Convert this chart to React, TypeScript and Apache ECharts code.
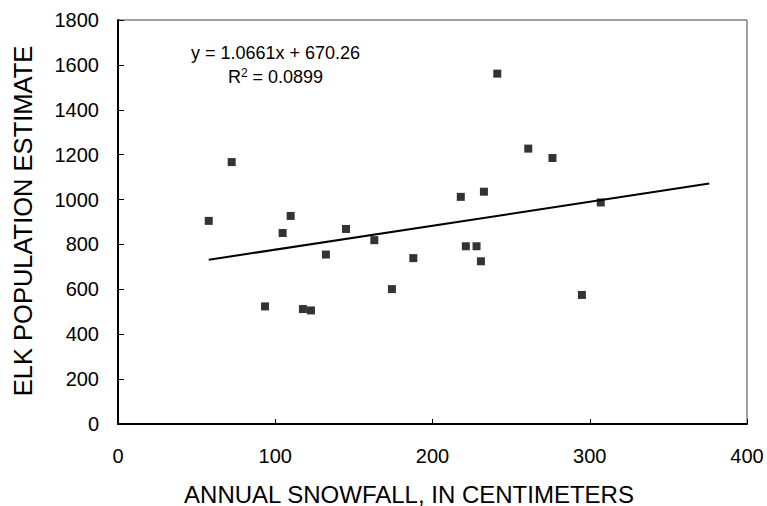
import React, { useEffect, useRef } from "react";
import * as echarts from "echarts";

const snowfall = [57.7, 72.3, 93.5, 104.7, 109.8, 117.6, 122.7, 132.2, 145, 163, 174.2, 187.8, 218, 221.2, 228, 230.8, 232.7, 241.2, 260.9, 276.3, 295, 307];
const elk = [905, 1167, 524, 851, 927, 512, 506, 755, 869, 819, 601, 739, 1012, 792, 792, 725, 1035, 1561, 1227, 1185, 575, 987];
const xTicks = [0, 100, 200, 300, 400];
const yTicks = [0, 200, 400, 600, 800, 1000, 1200, 1400, 1600, 1800];
const trendSlope = 1.0661;
const trendIntercept = 670.26;
const trendRange = [57.7, 376];

const FONT = "Liberation Sans, Arial, sans-serif";

export default function App() {
  const ref = useRef<HTMLDivElement>(null);
  useEffect(() => {
    if (!ref.current) return;
    const chart = echarts.init(ref.current, null, { renderer: "svg" });
    const points = snowfall.map((x, i) => [x, elk[i]]);
    const trend = trendRange.map((x) => [x, trendSlope * x + trendIntercept]);
    chart.setOption({
      animation: false,
      backgroundColor: "#fff",
      grid: {
        left: 118,
        right: 20,
        top: 20,
        bottom: 82,
        show: true,
        borderColor: "#444",
        borderWidth: 1,
      },
      xAxis: {
        type: "value",
        min: xTicks[0],
        max: xTicks[xTicks.length - 1],
        interval: 100,
        splitLine: { show: false },
        axisLine: { show: true, onZero: false, lineStyle: { color: "#000", width: 2 } },
        axisTick: { show: true, inside: true, length: 5, lineStyle: { color: "#000", width: 1 } },
        axisLabel: { color: "#000", fontSize: 20, fontFamily: FONT, margin: 22, formatter: (v: number) => String(v) },
      },
      yAxis: {
        type: "value",
        min: yTicks[0],
        max: yTicks[yTicks.length - 1],
        interval: 200,
        splitLine: { show: false },
        axisLine: { show: true, onZero: false, lineStyle: { color: "#000", width: 2 } },
        axisTick: { show: true, inside: true, length: 6, lineStyle: { color: "#000", width: 1 } },
        axisLabel: { color: "#000", fontSize: 20, fontFamily: FONT, margin: 19, formatter: (v: number) => String(v) },
      },
      series: [
        {
          type: "scatter",
          data: points,
          symbol: "rect",
          symbolSize: 8,
          itemStyle: { color: "#000" },
          z: 3,
        },
        {
          type: "line",
          data: trend,
          showSymbol: false,
          symbol: "none",
          lineStyle: { color: "#000", width: 2 },
          z: 2,
        },
      ],
      graphic: [
        {
          type: "text",
          x: 409,
          y: 494,
          style: {
            text: "ANNUAL SNOWFALL, IN CENTIMETERS",
            fontSize: 24,
            fontFamily: FONT,
            fill: "#000",
            align: "center",
            verticalAlign: "middle",
          },
        },
        {
          type: "text",
          x: 23,
          y: 221,
          rotation: Math.PI / 2,
          style: {
            text: "ELK POPULATION ESTIMATE",
            fontSize: 25.5,
            fontFamily: FONT,
            fill: "#000",
            align: "center",
            verticalAlign: "middle",
          },
        },
        {
          type: "text",
          x: 275.5,
          y: 53,
          style: {
            text: "y = 1.0661x + 670.26",
            fontSize: 18,
            fontFamily: FONT,
            fill: "#000",
            align: "center",
            verticalAlign: "middle",
          },
        },
        {
          type: "text",
          x: 275.5,
          y: 77,
          style: {
            text: "R{s|2} = 0.0899",
            fontSize: 18,
            fontFamily: FONT,
            fill: "#000",
            align: "center",
            verticalAlign: "middle",
            rich: {
              s: { fontSize: 12, fontFamily: FONT, fill: "#000", verticalAlign: "top", lineHeight: 20 },
            },
          },
        },
      ],
    });
    return () => chart.dispose();
  }, []);
  return <div ref={ref} style={{ width: 767, height: 506, position: "absolute", left: 0, top: 0 }} />;
}
